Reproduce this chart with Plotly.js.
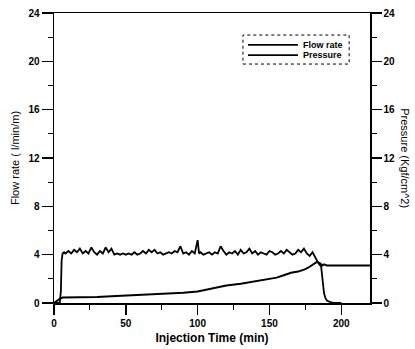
<!DOCTYPE html>
<html>
<head>
<meta charset="utf-8">
<script src="https://cdn.plot.ly/plotly-3.0.1.min.js"></script>
<style>html,body{margin:0;padding:0;background:#fff;}#chart{width:415px;height:349px;}</style>
</head>
<body>
<div id="chart"></div>
<script>
// Flow rate (l/min/m) vs injection time (min)
var flowTime = [0,4,4.8,5.3,6,7,8,10,12,14,16,18,20,22,24,26,28,30,32,34,36,38,40,42,44,46,48,50,52,54,56,58,60,62,64,66,68,70,72,74,76,78,80,82,84,86,88,90,92,94,96,98,100,101,102,104,106,108,110,112,114,116,118,120,122,124,126,128,130,132,134,136,138,140,142,144,146,148,150,152,154,156,158,160,162,164,166,168,170,172,174,176,178,180,182,184,186,187,188,189,190,192,195,200];
var flowRate = [0,0,1,3.5,4.1,4.2,4.1,4.3,4.1,4.4,4.2,4.5,4.1,4.3,4.1,4.6,4.2,4.0,4.3,4.1,4.6,4.2,4.5,4.0,4.1,4.0,4.1,4.0,4.1,4.0,4.2,4.0,4.1,4.3,4.1,4.4,4.2,4.4,4.1,4.2,4.0,4.1,4.2,4.1,4.3,4.2,4.7,4.1,4.2,4.0,4.3,4.1,5.2,4.1,4.2,4.0,4.1,4.2,4.0,4.2,4.1,4.7,4.3,4.0,4.2,4.1,4.3,4.0,4.4,4.1,4.2,4.5,4.1,4.3,4.0,4.2,4.1,4.0,4.3,4.2,4.0,4.1,4.3,4.1,4.4,4.2,4.0,4.1,4.4,4.2,4.5,4.1,3.9,4.2,3.7,3.3,3.0,2.0,0.8,0.4,0.2,0.1,0.0,0.0];
// Pressure (Kgf/cm^2) vs injection time (min)
var presTime = [0,2,4,6,10,20,30,40,50,60,70,80,90,100,110,120,130,140,150,155,160,165,170,175,178,181,183,185,187,188,190,220];
var pressure = [0,0.2,0.35,0.45,0.45,0.5,0.5,0.55,0.6,0.65,0.7,0.75,0.85,0.95,1.2,1.45,1.6,1.8,2.0,2.1,2.3,2.5,2.6,2.8,3.0,3.2,3.4,3.3,3.1,3.2,3.1,3.1];
var xTicks = [0,50,100,150,200];
var yTicks = [0,4,8,12,16,20,24];
var seriesNames = ['Flow rate','Pressure'];

var fam = 'Liberation Sans, Arial, sans-serif';
var tickFont = {family:fam, size:10, color:'#000', weight:'bold'};
var traces = [
  {x:flowTime, y:flowRate, name:seriesNames[0], mode:'lines', line:{color:'#000', width:1.8}, xaxis:'x', yaxis:'y'},
  {x:presTime, y:pressure, name:seriesNames[1], mode:'lines', line:{color:'#000', width:2}, xaxis:'x', yaxis:'y2'}
];
// legend drawn as a small key (line samples + labels) in paper coordinates
var keyY = [0.890, 0.855];
var shapes = [{type:'rect', xref:'paper', yref:'paper', x0:0.598, x1:0.934, y0:0.824, y1:0.924,
               line:{color:'#000', width:1, dash:'dot'}}];
var annotations = [{text:'Pressure (Kgf/cm^2)', xref:'paper', yref:'paper', x:1.11, y:0.5, xanchor:'center', yanchor:'middle',
                    textangle:90, showarrow:false, font:{family:fam, size:11, color:'#000'}}];
seriesNames.forEach(function(n, i){
  shapes.push({type:'line', xref:'paper', yref:'paper', x0:0.614, x1:0.772, y0:keyY[i], y1:keyY[i], line:{color:'#000', width:1.8}});
  annotations.push({text:n, xref:'paper', yref:'paper', x:0.782, y:keyY[i], xanchor:'left', yanchor:'middle', showarrow:false,
                    font:{family:fam, size:9, color:'#000', weight:'bold'}});
});
var layout = {
  width:415, height:349,
  margin:{l:54, r:45, t:13, b:46},
  paper_bgcolor:'#fff', plot_bgcolor:'#fff',
  showlegend:false,
  xaxis:{range:[0,220], tickvals:xTicks, ticktext:xTicks.map(String), ticks:'outside', ticklen:10, tickwidth:1.5,
         tickcolor:'#000', showline:true, linecolor:'#000', linewidth:1.5, mirror:true, showgrid:false, zeroline:false,
         tickfont:tickFont, minor:{dtick:25, tick0:0, ticks:'outside', ticklen:5, tickcolor:'#000', tickwidth:1},
         title:{text:'Injection Time (min)', font:{family:fam, size:12, color:'#000', weight:'bold'}, standoff:6}},
  yaxis:{range:[0,24], tickvals:yTicks, ticktext:yTicks.map(String), ticks:'outside', ticklen:11, tickwidth:1.5,
         tickcolor:'#000', showline:true, linecolor:'#000', linewidth:1.5, showgrid:false, zeroline:false,
         tickfont:tickFont, minor:{dtick:2, tick0:0, ticks:'outside', ticklen:5, tickcolor:'#000', tickwidth:1},
         title:{text:'Flow rate ( l/min/m)', font:{family:fam, size:11, color:'#000'}, standoff:6}},
  yaxis2:{range:[0,24], overlaying:'y', side:'right', tickvals:yTicks, ticktext:yTicks.map(String), ticks:'outside', ticklen:10, tickwidth:1.5,
         tickcolor:'#000', showline:true, linecolor:'#000', linewidth:1.5, showgrid:false, zeroline:false,
         tickfont:tickFont, minor:{dtick:2, tick0:0, ticks:'outside', ticklen:5, tickcolor:'#000', tickwidth:1}},
  annotations:annotations,
  shapes:shapes
};
Plotly.newPlot('chart', traces, layout, {displayModeBar:false, staticPlot:true});
</script>
</body>
</html>
